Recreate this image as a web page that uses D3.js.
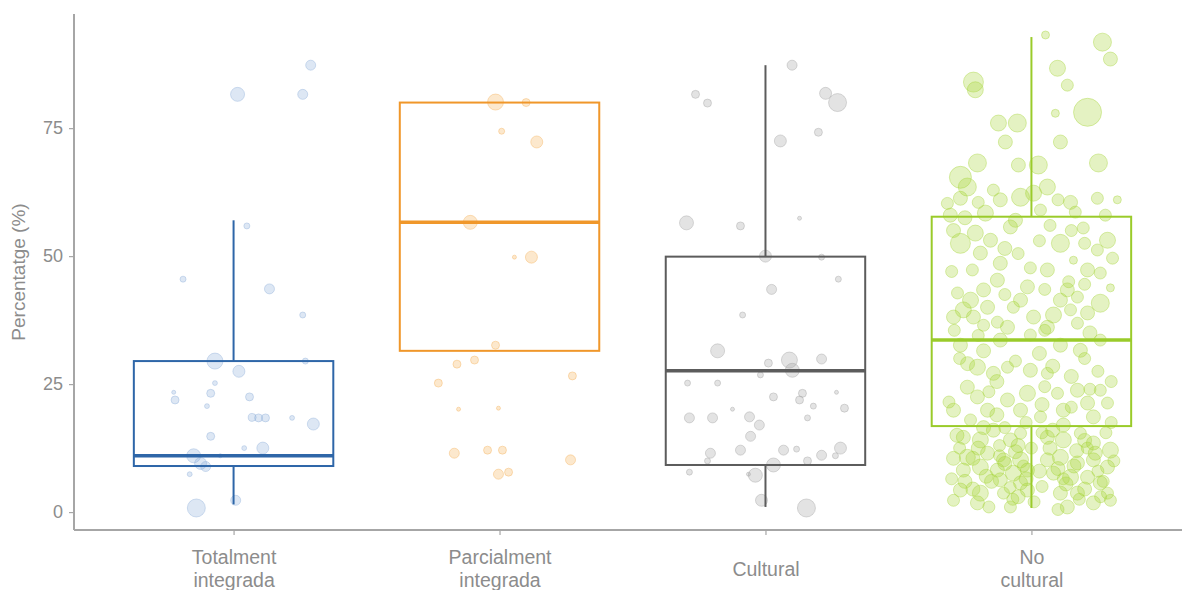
<!DOCTYPE html>
<html><head><meta charset="utf-8">
<script src="https://cdn.jsdelivr.net/npm/d3@7"></script>
<style>body{margin:0;background:#fff}svg{display:block}text{font-family:"Liberation Sans",Arial,sans-serif}</style>
</head><body><svg id="c" width="1182" height="590"></svg>
<script>
const categories = ["Totalment integrada","Parcialment integrada","Cultural","No cultural"];
const catLines = [["Totalment","integrada"],["Parcialment","integrada"],["Cultural"],["No","cultural"]];
const yTicks = [0,25,50,75];
const boxLow  = [1.5, 31.5, 1.0, 0.8];
const boxQ1   = [9.0, 31.5, 9.2, 16.8];
const boxMed  = [11.0, 56.6, 27.6, 33.6];
const boxQ3   = [29.5, 80.0, 49.9, 57.7];
const boxHigh = [57.0, 80.0, 87.3, 92.8];
const lineColors  = ["#2e66a8","#f0972a","#5c5c5c","#9acb2a"];
const pointColors = ["#8fb0da","#f5b25a","#a3a3a3","#a6d436"];
// points: [jitter (category units), value (%), weight]
const ptsTotal = [[0.015,81.6,49],[0.26,81.6,25],[0.29,87.3,25],[-0.19,45.5,9],[0.135,43.6,25],[0.26,38.5,9],[0.05,55.9,9],
[-0.07,29.5,64],[0.02,27.5,36],[0.27,29.5,9],[-0.22,21.9,16],[-0.225,23.4,4],[-0.07,25.2,6],[-0.086,23.2,16],[-0.1,20.7,6],
[0.06,22.5,16],[0.07,18.5,16],[0.094,18.4,16],[0.12,18.4,16],[0.22,18.4,6],[0.3,17.2,36],[-0.086,14.8,16],[0.04,12.5,6],
[0.11,12.5,36],[-0.15,11,49],[-0.124,9.5,36],[-0.105,8.9,25],[-0.165,7.4,6],[-0.05,11,4],[-0.14,0.8,81],[0.008,2.3,25]];
const ptsParcial = [[-0.015,80.1,64],[0.1,80,16],[0.008,74.4,9],[0.14,72.3,36],[-0.11,56.6,49],[0.056,49.8,4],[0.12,49.8,36],
[-0.015,32.6,16],[-0.16,28.9,16],[-0.094,29.7,16],[-0.23,25.2,16],[0.274,26.6,16],[-0.154,20.1,4],[-0.004,20.3,4],
[-0.17,11.5,25],[-0.045,12.1,16],[0.011,12.1,16],[0.267,10.2,25],[-0.004,7.4,25],[0.034,7.8,16]];
const ptsCultural = [[0.1,87.3,25],[-0.263,81.6,16],[-0.218,79.9,16],[0.226,81.8,36],[0.271,80,81],[0.199,74.2,16],[0.056,72.5,36],
[-0.297,56.5,49],[-0.094,55.9,16],[0.128,57.4,4],[0,50,36],[0.211,49.8,9],[0.274,45.5,9],[0.023,43.5,25],[-0.086,38.5,9],
[-0.18,31.5,49],[0.011,29.1,16],[0.09,29.7,64],[0.101,27.7,49],[0.211,29.9,25],[-0.019,26.8,9],[-0.293,25.2,9],[-0.18,25.2,9],
[0.03,22.5,16],[0.139,23.2,16],[0.128,21.9,16],[0.18,20.7,9],[0.267,23.4,4],[0.297,20.3,16],[-0.286,18.4,25],[-0.199,18.4,25],
[-0.124,20.1,4],[-0.06,18.6,25],[-0.023,17,25],[0.158,18.4,9],[-0.056,14.8,25],[-0.207,11.5,25],[-0.218,10,9],[-0.094,12.1,25],
[0.068,12.1,25],[0.117,12.3,9],[0.158,10,16],[0.211,11.1,25],[0.263,11,9],[0.282,12.5,36],[-0.286,7.8,9],[0.03,9.2,49],
[-0.038,7.2,49],[-0.064,7.4,4],[-0.015,2.3,36],[0.154,0.8,81]];
const ptsNoCult = [[0.053,93.2,16],[0.267,91.8,81],[0.297,88.5,49],[-0.218,84,100],[-0.211,82.5,64],[0.098,86.7,64],[0.135,83.4,36],
[0.211,78.1,196],[0.09,77.9,16],[-0.124,76,64],[-0.053,76,81],[-0.098,72.3,49],[0.109,72.3,49],[0.252,68.2,81],[-0.203,68.2,81],
[-0.049,67.8,49],[0.026,67.8,81],[-0.267,65.4,121],[-0.241,63.5,81],[-0.143,62.9,36],[0.06,63.5,64],[-0.041,61.5,81],[0.008,62.3,64],
[0.147,60.5,49],[0.248,61.3,36],[0.323,61,16],[-0.267,61.3,49],[-0.117,61,49],[-0.316,60.3,36],[-0.305,58,49],[-0.173,58.4,64],
[0.034,59,36],[0.165,58.6,36],[0.278,58,36],[-0.06,57,49],[-0.267,52.5,100],[-0.211,54.5,64],[-0.293,55,49],[-0.154,53.1,49],
[-0.079,55.7,49],[0.109,52.5,81],[0.195,55.5,36],[0.286,53.1,64],[0.248,51.2,36],[0.305,49.6,36],[-0.192,50.6,49],[-0.117,48.6,49],
[-0.222,47.3,36],[-0.004,47.7,36],[0.06,47.3,49],[0.158,49.2,16],[0.211,47.3,49],[0.259,46.7,36],[-0.128,45.3,49],[-0.015,44,49],
[0.135,43.4,49],[0.297,43.8,16],[-0.278,42.8,36],[-0.229,41.4,64],[-0.18,43.4,49],[-0.041,41.4,49],[0.109,41.4,49],[0.173,42,36],
[0.259,40.8,81],[-0.256,39.5,64],[-0.165,40,49],[-0.068,40,36],[-0.293,38.1,49],[-0.218,38.1,49],[-0.128,37.1,36],[0.008,38.1,49],
[0.083,38.5,64],[0.147,39.5,36],[0.211,38.9,49],[-0.18,36.5,36],[-0.09,36.1,49],[0.06,36.1,49],[0.173,36.9,36],[-0.267,32.6,49],
[-0.117,33.6,49],[0.109,32.6,49],[0.259,33.6,36],[-0.004,34.6,36],[0.184,31.6,49],[-0.203,28.3,64],[-0.143,27.1,49],[-0.09,28.3,36],
[-0.004,27.7,49],[0.06,27.1,36],[-0.241,24.4,49],[-0.203,22.5,49],[-0.09,21.9,49],[-0.015,23.2,64],[0.098,23.2,36],[0.173,23.8,49],
[0.259,23.8,36],[0.286,21.3,36],[0.211,21.3,49],[-0.293,19.9,49],[-0.165,19.9,49],[-0.041,19.9,49],[0.12,19.9,49],[0.034,18.6,36],
[-0.229,18,36],[0.233,18.6,49],[-0.256,14.6,49],[-0.192,14.1,64],[-0.143,16,49],[-0.079,14.1,49],[-0.041,15.4,36],[0.06,14.6,49],
[0.12,14.1,64],[0.184,15.4,36],[0.233,13.5,49],[0.297,12.1,64],[-0.293,10.5,49],[-0.241,10.7,64],[-0.165,11.5,49],[-0.105,10.2,49],
[-0.041,10.2,64],[-0.015,8.2,49],[-0.068,7.6,64],[-0.128,8.2,49],[-0.192,8.8,64],[-0.256,8.2,49],[0.06,10.2,49],[0.109,10.7,64],
[0.173,9.6,49],[0.233,10.2,49],[0.286,8.8,49],[0.083,7.6,49],[0.147,6.8,64],[0.211,6.8,49],[0.259,5.7,49],[-0.041,5.7,49],
[-0.117,6.3,49],[-0.267,4.3,49],[-0.192,3.7,64],[-0.105,3.7,36],[-0.015,4.3,49],[0.109,3.7,49],[0.173,3.7,49],[0.286,3.7,36],
[-0.293,2.3,36],[-0.203,1.8,49],[-0.079,1,36],[0.135,1,49],[0.233,1.8,49],[0.297,2.3,36],[-0.1,9.5,49],[-0.06,11.8,49],
[-0.02,6.5,49],[-0.15,6,49],[-0.08,4.8,36],[-0.03,9,36],[-0.2,12.5,49],[-0.12,13,36],[0.04,5,36],[0.07,12.5,49],[0.17,12,49],
[0.2,4.5,49],[-0.25,6,49],[0.1,8.5,49],[0.25,8,36],[-0.18,16.5,49],[0.12,17,49],[0.28,15.5,36],[-0.27,12.5,36],[0.04,21,49],
[-0.13,25.5,49],[0.15,26.5,49],[0.25,27.5,36],[-0.27,30,36],[0.03,31,49],[-0.2,34.5,36],[0.14,45,36],[-0.05,50.5,36],
[0.2,52.5,36],[-0.25,57.5,49],[0.07,56,36],
[-0.3,6.5,36],[-0.28,15,49],[-0.22,4.5,49],[-0.16,1,36],[-0.13,19,49],[-0.1,16.5,36],[-0.07,2.5,36],[-0.05,13,49],[-0.02,17.5,36],
[0.01,2,36],[0.03,8,49],[0.05,24.5,36],[0.08,16,49],[0.1,0.5,36],[0.13,5.5,49],[0.15,20.5,36],[0.18,2.5,36],[0.2,14,49],
[0.22,24,36],[0.24,11.5,49],[0.27,6,36],[0.3,17.5,36],[0.31,10,36],[-0.31,21.5,36],[-0.24,29,49],[-0.16,23.5,36],[-0.06,29.5,36],
[0.08,28.5,49],[0.2,30,36],[0.3,25.5,36],[-0.22,10.5,49],[-0.17,7,49],[-0.12,11,36],[-0.05,3,49],[0,12.5,36],[0.04,15.5,36],
[0.12,6.5,36],[0.16,9,49],[0.21,12.5,36],[0.26,3,36],[-0.29,35.5,36],[-0.18,31.5,49],[0.05,35.5,36],[0.22,35,49],[-0.1,42.5,36],
[0.05,43.5,36],[0.2,44.5,36],[-0.3,47,36],[-0.1,51.5,49],[0.03,53,36],[0.15,55,36],[-0.2,60.5,36],[0.1,61,36]];
const allPts = [ptsTotal, ptsParcial, ptsCultural, ptsNoCult];

const svg = d3.select("#c");
const axisColor = "#a6a6a6", textColor = "#8c8c8c";
const x = d3.scalePoint().domain(categories).range([74, 1191]).padding(0.6);
const y = d3.scaleLinear().domain([-3.5, 97.3]).range([530, 14]);
const r = d3.scaleSqrt().domain([0, 100]).range([0, 10]);
const step = x.step();
const boxW = step * 0.75;
const fillOp = [0.3, 0.3, 0.3, 0.3];

// points
categories.forEach((c, i) => {
  svg.append("g").selectAll("circle").data(allPts[i]).join("circle")
    .attr("cx", d => x(c) + d[0] * step)
    .attr("cy", d => y(d[1]))
    .attr("r", d => r(d[2]))
    .attr("fill", pointColors[i]).attr("fill-opacity", fillOp[i])
    .attr("stroke", pointColors[i]).attr("stroke-opacity", 0.4).attr("stroke-width", 1);
});

// boxes
const boxes = categories.map((c, i) => ({c, i, lo: boxLow[i], q1: boxQ1[i], med: boxMed[i], q3: boxQ3[i], hi: boxHigh[i]}));
const bg = svg.append("g").selectAll("g").data(boxes).join("g");
bg.append("line").attr("x1", d => x(d.c)).attr("x2", d => x(d.c))
  .attr("y1", d => y(d.hi)).attr("y2", d => y(d.q3)).attr("stroke", d => lineColors[d.i]).attr("stroke-width", 2);
bg.append("line").attr("x1", d => x(d.c)).attr("x2", d => x(d.c))
  .attr("y1", d => y(d.q1)).attr("y2", d => y(d.lo)).attr("stroke", d => lineColors[d.i]).attr("stroke-width", 2);
bg.append("rect").attr("x", d => x(d.c) - boxW / 2).attr("width", boxW)
  .attr("y", d => y(d.q3)).attr("height", d => y(d.q1) - y(d.q3))
  .attr("fill", "none").attr("stroke", d => lineColors[d.i]).attr("stroke-width", 2);
bg.append("line").attr("x1", d => x(d.c) - boxW / 2).attr("x2", d => x(d.c) + boxW / 2)
  .attr("y1", d => y(d.med)).attr("y2", d => y(d.med)).attr("stroke", d => lineColors[d.i]).attr("stroke-width", 3.5);

// axes
const yAxis = svg.append("g").attr("transform", "translate(74,0)")
  .call(d3.axisLeft(y).tickValues(yTicks).tickSize(5).tickPadding(6));
const xAxis = svg.append("g").attr("transform", "translate(0,530)")
  .call(d3.axisBottom(x).tickSize(5).tickFormat(""));
[yAxis, xAxis].forEach(g => {
  g.select(".domain").attr("stroke", axisColor).attr("stroke-width", 2);
  g.selectAll(".tick line").attr("stroke", axisColor).attr("stroke-width", 1.2);
});
xAxis.select(".domain").attr("d", "M74,0H1182");
yAxis.select(".domain").attr("d", "M0,14V530");
yAxis.selectAll(".tick text").attr("fill", textColor).style("font-size", "18px");

xAxis.selectAll(".tick").each(function(d, i) {
  const t = d3.select(this).append("text").attr("fill", textColor).attr("text-anchor", "middle").style("font-size", "19.5px");
  catLines[i].forEach((ln, k) => {
    t.append("tspan").attr("x", 0).attr("y", (catLines[i].length === 1 ? 46 : 34) + k * 23).text(ln);
  });
});

svg.append("text").attr("transform", "translate(25,272) rotate(-90)")
  .attr("text-anchor", "middle").attr("fill", textColor).style("font-size", "19px").text("Percentatge (%)");
</script></body></html>
